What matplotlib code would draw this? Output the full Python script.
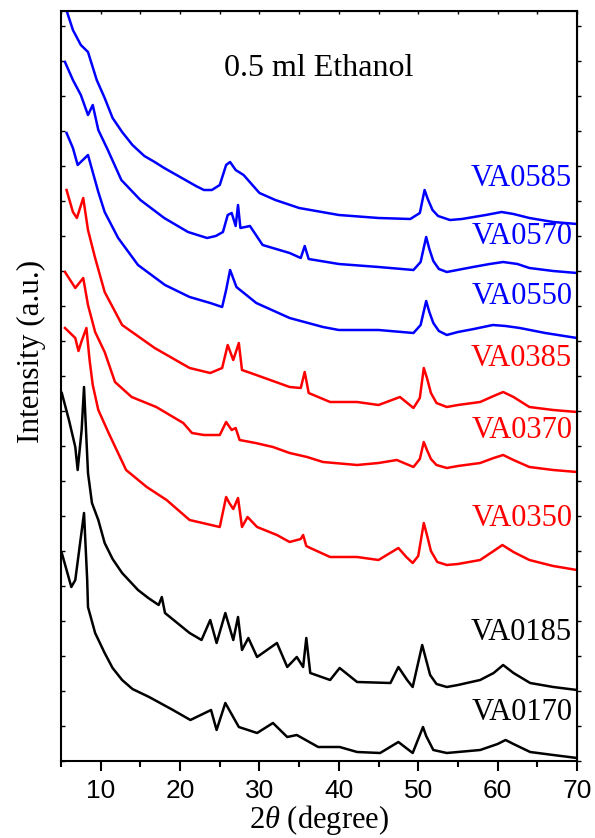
import matplotlib
matplotlib.use('Agg')
import matplotlib.pyplot as plt
from matplotlib.ticker import MultipleLocator

plt.rcParams['font.family'] = ['Liberation Serif', 'DejaVu Serif']
plt.rcParams['mathtext.fontset'] = 'custom'
plt.rcParams['mathtext.rm'] = 'Liberation Serif'
plt.rcParams['mathtext.it'] = 'Liberation Serif:italic'

# XRD patterns, stacked (intensity in arbitrary offset units)
va0585_x = [5.6, 6.5, 7.5, 8.4, 9.5, 10.5, 11.5, 12.7, 14, 15.5, 16.8, 18, 20, 22, 23, 24, 25, 25.8, 26.3, 27, 28,
            30, 32, 35, 40, 45, 49, 50.2, 50.8, 51.2, 51.8, 52.5, 54, 55.5, 58.5, 60.5, 62, 64, 67, 70]
va0585_y = [753, 731, 716, 709, 681, 663, 643, 629, 616, 605, 599, 593, 584, 575, 571, 571, 576, 596, 599, 591, 586,
            568, 561, 553, 546, 543, 542, 548, 571, 562, 551, 545, 541, 542, 546, 549, 547, 543, 539, 537]

va0570_x = [5.5, 6.5, 7.5, 8.4, 9.0, 9.7, 10.9, 12.6, 15, 18, 21, 23.4, 24.5, 25.4, 26.0, 26.5, 27.0, 27.3, 27.6,
            28.8, 30.4, 33.8, 35.2, 35.7, 36.2, 40, 45, 49.4, 50.3, 51.0, 51.4, 51.9, 52.6, 53.6, 56.9, 59,
            60.7, 62.5, 64, 67, 70]
va0570_y = [699, 681, 666, 646, 656, 631, 611, 581, 561, 543, 529, 523, 525, 529, 546, 548, 535, 556, 533,
            535, 516, 508, 503, 515, 502, 497, 494, 491, 499, 524, 512, 500, 492, 489, 494, 497,
            499, 497, 493, 490, 488]

va0550_x = [5.7, 6.5, 7.1, 8.4, 9.7, 10.5, 12.2, 14.7, 18.1, 21.2, 23.8, 25.3, 25.8, 26.3, 27.1, 29.6, 33.8,
            38, 40, 45, 49.4, 50.3, 51.0, 51.4, 51.9, 52.6, 53.6, 55, 57, 59.4, 61, 62.8, 66, 70]
va0550_y = [628, 613, 596, 606, 569, 549, 523, 496, 476, 464, 458, 454, 471, 491, 474, 458, 443,
            434, 431, 431, 428, 436, 460, 449, 438, 430, 426, 429, 432, 436, 435, 433, 428, 423]

va0385_x = [5.7, 6.5, 7.0, 7.8, 8.4, 9.3, 10.5, 12.7, 16.8, 21.2, 23.8, 25.3, 26.0, 26.7, 27.4, 27.8, 29.6,
            33.8, 35.2, 35.7, 36.2, 38.9, 42.3, 45, 47.7, 49.4, 50.2, 50.7, 51.1, 51.6, 52.3, 53.6, 55,
            57.8, 59.5, 60.7, 62, 64, 67, 70]
va0385_y = [571, 549, 543, 563, 531, 503, 469, 436, 413, 393, 388, 393, 416, 401, 418, 391, 386,
            374, 373, 389, 368, 359, 359, 356, 364, 353, 363, 393, 383, 368, 358, 354, 356,
            359, 365, 369, 364, 354, 351, 349]

va0370_x = [5.5, 6.8, 7.8, 8.4, 9.3, 10.5, 11.8, 13.9, 17.0, 20.4, 21.5, 23.0, 25.0, 25.8, 26.5, 27.0, 27.5,
            29.5, 31.7, 33.8, 36.0, 38.0, 42.3, 45.0, 47.3, 49.4, 50.2, 50.7, 51.1, 51.6, 52.3, 53.6, 55,
            57.8, 59.5, 60.7, 62, 64.0, 67, 70.0]
va0370_y = [489, 473, 483, 456, 429, 409, 379, 364, 354, 338, 328, 326, 326, 339, 331, 333, 321,
            318, 314, 308, 304, 299, 296, 298, 301, 294, 302, 319, 311, 302, 296, 293, 295,
            298, 303, 306, 301, 294, 291, 289]

va0350_x = [5.5, 6.8, 7.2, 7.6, 8.2, 8.6, 9.0, 9.7, 11.0, 13.2, 15.8, 18.3, 21.2, 25.0, 25.8, 26.2, 26.7, 27.3,
            27.8, 28.5, 29.7, 32.2, 33.8, 35.2, 35.5, 35.9, 36.4, 38.9, 42.3, 45.0, 47.5, 48.5, 49.3, 50.0,
            50.7, 51.1, 51.6, 52.4, 53.6, 55, 57.8, 59.5, 60.6, 62, 64.0, 67, 70.0]
va0350_y = [433, 423, 410, 420, 433, 401, 376, 351, 328, 291, 274, 261, 241, 234, 264, 258, 252, 263,
            234, 244, 234, 226, 219, 222, 226, 215, 213, 204, 204, 201, 213, 204, 198, 205,
            238, 226, 210, 199, 196, 197, 201, 210, 216, 209, 201, 195, 191]

va0185_x = [5.1, 6.0, 6.8, 7.1, 7.6, 7.9, 8.4, 8.9, 9.7, 10.5, 11.5, 12.7, 14.7, 16, 17.3, 17.7, 18.1, 21.2, 22.7,
            23.8, 24.6, 25.7, 26.7, 27.3, 27.8, 28.6, 29.7, 32.2, 33.5, 34.7, 35.5, 35.9, 36.4, 38.9, 40.1,
            42.3, 46.5, 47.5, 48.6, 49.3, 50.5, 50.9, 51.5, 52.3, 53.6, 55, 57.8, 59.5, 60.7, 62, 64.1, 67, 70]
va0185_y = [368, 341, 314, 291, 331, 374, 288, 258, 241, 218, 202, 188, 171, 163, 156, 164, 148, 128, 121,
            141, 118, 148, 121, 144, 111, 123, 104, 118, 94, 104, 94, 123, 88, 81, 93,
            79, 78, 94, 81, 74, 116, 104, 86, 77, 74, 76, 81, 88, 96, 88, 78, 74, 71]

va0170_x = [5.1, 6.3, 6.8, 7.9, 8.3, 8.4, 9.3, 10.5, 11.5, 12.7, 14, 16.1, 19.1, 21.3, 23.9, 24.6, 25.7, 27.4,
            29.7, 31.7, 33.5, 34.7, 37.4, 40.1, 42.3, 45.2, 47.5, 49.3, 50.6, 51.0, 51.9, 53.6, 55, 57.8, 60,
            61, 62, 64.1, 67, 70]
va0170_y = [208, 174, 181, 248, 181, 154, 128, 108, 93, 81, 72, 64, 51, 41, 51, 31, 58, 34,
            28, 38, 24, 26, 14, 14, 9, 8, 19, 8, 34, 25, 11, 8, 9, 11, 17,
            21, 17, 9, 6, 3]

samples = ['VA0585', 'VA0570', 'VA0550', 'VA0385', 'VA0370', 'VA0350', 'VA0185', 'VA0170']
colors = ['#0000ff', '#0000ff', '#0000ff', '#ff0000', '#ff0000', '#ff0000', '#000000', '#000000']
series = [(va0585_x, va0585_y), (va0570_x, va0570_y), (va0550_x, va0550_y), (va0385_x, va0385_y),
          (va0370_x, va0370_y), (va0350_x, va0350_y), (va0185_x, va0185_y), (va0170_x, va0170_y)]
label_y = [583, 525, 464, 403, 331, 242, 128, 49]

fig = plt.figure(figsize=(5.95, 8.38), dpi=100)
ax = fig.add_axes([61/595, 77/838, 516/595, 750/838])

for (x, y), c in zip(series, colors):
    ax.plot(x, y, color=c, lw=1.8, solid_joinstyle='round')

for name, c, ly in zip(samples, colors, label_y):
    ax.text(69.4, ly, name, color=c, fontsize=22, ha='right', va='center')

ax.text(37.4, 693, '0.5 ml Ethanol', fontsize=23, ha='center', va='center')

ax.set_xlim(5, 70)
ax.set_ylim(0, 750)
for s in ax.spines.values():
    s.set_linewidth(1.5)

ax.xaxis.set_major_locator(MultipleLocator(10))
ax.xaxis.set_minor_locator(MultipleLocator(5))
ax.tick_params(axis='x', which='major', direction='out', length=7, width=1.5, pad=6, labelsize=19)
ax.tick_params(axis='x', which='minor', direction='out', length=4, width=1.5)
for lab in ax.get_xticklabels():
    lab.set_fontfamily('Liberation Sans')

ax.yaxis.set_major_locator(MultipleLocator(35))
ax.tick_params(axis='y', which='major', direction='in', length=3, width=1, labelleft=False)

top = ax.secondary_xaxis('top')
top.xaxis.set_major_locator(MultipleLocator(5))
top.tick_params(direction='in', length=2.5, width=1, labeltop=False)
right = ax.secondary_yaxis('right')
right.yaxis.set_major_locator(MultipleLocator(35))
right.tick_params(direction='out', length=3, width=1, labelright=False)

ax.set_xlabel(r'$2\theta$ (degree)', fontsize=22, labelpad=0)
fig.text(31/595, 1 - 351/838, 'Intensity (a.u.)', fontsize=22.5, rotation=90, ha='center', va='center')

fig.savefig('out.png', dpi=100)
